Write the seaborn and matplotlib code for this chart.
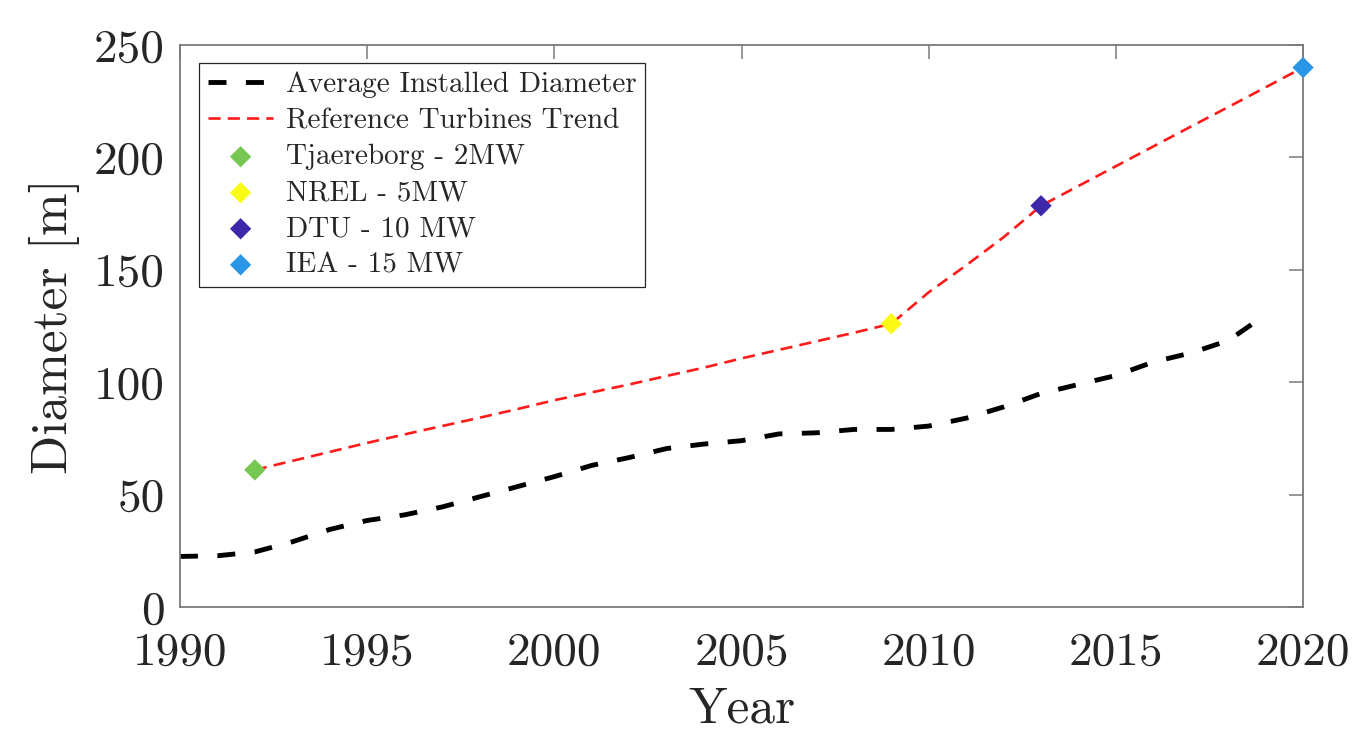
import matplotlib
matplotlib.use("Agg")
import matplotlib.pyplot as plt
import seaborn as sns
import pandas as pd

# ---- data ----
avg_years = list(range(1990, 2020))
avg_diameter = [22.5, 22.8, 24.5, 29.0, 34.5, 38.5, 41.0, 44.5, 49.0, 53.5,
                58.0, 63.0, 66.5, 70.5, 72.5, 74.0, 77.0, 77.5, 79.0, 79.0,
                80.5, 84.0, 89.0, 95.0, 99.0, 103.0, 109.0, 113.0, 118.5, 130.0]

trend_years = list(range(1992, 2021))
trend_diameter = [61.0, 65.0, 69.0, 73.0, 76.8, 80.5, 84.2, 88.0, 92.0, 95.5,
                  99.0, 102.8, 106.5, 110.6, 114.4, 118.2, 122.0, 126.0, 140.0,
                  152.0, 164.5, 178.5, 187.3, 196.1, 204.9, 213.7, 222.4, 231.2, 240.0]

turbine_names = ["Tjaereborg - 2MW", "NREL - 5MW", "DTU - 10 MW", "IEA - 15 MW"]
turbine_years = [1992, 2009, 2013, 2020]
turbine_diameters = [61.0, 126.0, 178.5, 240.0]
turbine_colors = ["#77C853", "#FAFA14", "#3C28A8", "#2A96E6"]

x_ticks = [1990, 1995, 2000, 2005, 2010, 2015, 2020]
y_ticks = [0, 50, 100, 150, 200, 250]

# ---- style ----
sns.set_style("white")
plt.rcParams["font.family"] = ["cmr10", "DejaVu Serif"]
plt.rcParams["mathtext.fontset"] = "cm"
plt.rcParams["axes.formatter.use_mathtext"] = True
text_color = "#262626"
axis_color = "#7a7a7a"

fig = plt.figure(figsize=(13.53, 7.31), dpi=100)
ax = fig.add_axes([0.1330, 0.1696, 0.8301, 0.7688])

avg_df = pd.DataFrame({"Year": avg_years, "Diameter": avg_diameter})
trend_df = pd.DataFrame({"Year": trend_years, "Diameter": trend_diameter})

sns.lineplot(data=avg_df, x="Year", y="Diameter", ax=ax, color="black",
             linewidth=3.5, linestyle=(0, (3.7, 4.0)),
             label="Average Installed Diameter", zorder=2)
sns.lineplot(data=trend_df, x="Year", y="Diameter", ax=ax, color="#FF1A1A",
             linewidth=1.9, linestyle=(0, (4.6, 2.7)),
             label="Reference Turbines Trend", zorder=2)

for name, yr, d, c in zip(turbine_names, turbine_years, turbine_diameters, turbine_colors):
    sns.scatterplot(x=[yr], y=[d], ax=ax, marker="D", s=118, color=c,
                    edgecolor="none", label=name, zorder=3, clip_on=False)

ax.set_xlim(1990, 2020)
ax.set_ylim(0, 250)
ax.set_xticks(x_ticks)
ax.set_yticks(y_ticks)
ax.set_xticklabels([str(t) for t in x_ticks])
ax.set_yticklabels([str(t) for t in y_ticks])

ax.tick_params(axis="both", which="both", direction="in", length=10, width=1.1,
               color=axis_color, labelcolor=text_color, labelsize=34,
               top=True, right=True)
ax.tick_params(axis="x", pad=18)
ax.tick_params(axis="y", pad=11)
for sp in ax.spines.values():
    sp.set_color(axis_color)
    sp.set_linewidth(1.3)
    sp.set_visible(True)

ax.set_xlabel("Year", fontsize=37, color=text_color, labelpad=9)
ax.set_ylabel("Diameter [m]", fontsize=37, color=text_color, labelpad=10)

leg = ax.legend(loc="upper left", bbox_to_anchor=(0.017, 0.968), borderaxespad=0,
                fontsize=21, frameon=True, fancybox=False, framealpha=1,
                handlelength=2.25, handletextpad=0.42, labelspacing=0.33,
                borderpad=0.3)
leg.get_frame().set_edgecolor("#262626")
leg.get_frame().set_linewidth(0.9)
for t in leg.get_texts():
    t.set_color(text_color)

fig.savefig("out.png", dpi=100)
